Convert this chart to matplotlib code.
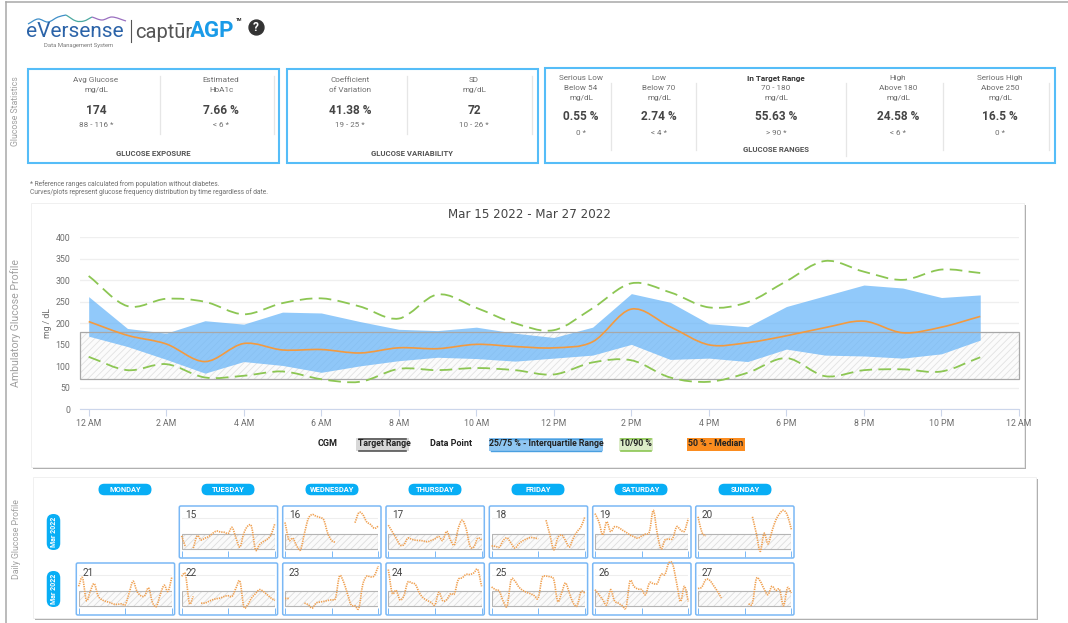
import matplotlib
matplotlib.use("Agg")
import numpy as np
import matplotlib.pyplot as plt
from matplotlib.patches import FancyBboxPatch, Rectangle, PathPatch
from matplotlib.path import Path

plt.rcParams["font.family"] = ["Roboto", "DejaVu Sans"]
plt.rcParams["hatch.linewidth"] = 0.6

W, H = 1068, 623
BLUE = "#55bdf8"
PILL = "#08aef5"
GREEN = "#8cc653"
ORANGE = "#f39a3f"
TXT = "#6e6e6e"
DARK = "#454545"

# ambulatory profile, hourly readings
hours = list(range(24))
p90 = [310, 240, 257, 250, 221, 247, 258, 239, 211, 267, 236, 200,
       184, 235, 293, 272, 237, 249, 298, 345, 320, 301, 325, 317]
p75 = [262, 188, 177, 206, 198, 226, 224, 204, 186, 183, 191, 177,
       167, 191, 269, 249, 199, 192, 239, 264, 289, 282, 260, 266]
p50 = [204, 172, 152, 111, 153, 138, 139, 131, 143, 141, 151, 146,
       143, 157, 233, 192, 150, 155, 171, 190, 205, 178, 191, 216]
p25 = [170, 146, 116, 84, 111, 102, 86, 101, 113, 121, 118, 112,
       119, 126, 151, 116, 119, 111, 140, 126, 124, 119, 129, 161]
p10 = [122, 91, 105, 74, 78, 88, 70, 64, 94, 91, 96, 91,
       81, 109, 114, 74, 64, 85, 119, 77, 91, 93, 88, 121]
y_ticks = [0, 50, 100, 150, 200, 250, 300, 350, 400]
x_ticks = [0, 2, 4, 6, 8, 10, 12, 14, 16, 18, 20, 22, 24]
x_labels = ["12 AM", "2 AM", "4 AM", "6 AM", "8 AM", "10 AM", "12 PM",
            "2 PM", "4 PM", "6 PM", "8 PM", "10 PM", "12 AM"]
target_low, target_high = 70, 180

# daily traces, hourly readings, None = no data
day_15 = [168, 85, None, 77, 168, 138, 151, 163, 187, 204, 197, 195, 187, 231, 151, 85, 187, 241, 236, 65, 102, 126, 143, 175, 261]
day_16 = [268, 138, 151, 94, 65, 187, 297, 327, 314, 305, 285, 187, 134, 119, None, None, None, None, 266, 341, 327, 273, 253, 224, 241]
day_17 = [248, 200, 151, 102, 102, 151, 143, 136, 134, 131, 124, 134, 146, 163, 134, 202, 138, 102, 224, 285, 224, 94, 85, 151, 138]
day_18 = [94, 90, 85, 134, 153, 114, 77, 109, 131, 146, 156, 153, 146, None, 285, 175, 65, 151, 175, 134, 85, 151, 200, 236, 310]
day_19 = [334, 273, 175, 273, 200, 236, 231, 212, 195, 175, 163, 151, 168, 182, 200, 358, 187, 72, 138, 143, 151, 236, 212, 204, 297]
day_20 = [310, 195, 168, None, None, None, None, None, None, None, None, None, None, None, 310, 187, 53, 187, 109, 200, 285, 334, 358, 321, 217]
day_21 = [217, 280, 112, 180, 237, 147, 117, 105, 97, 85, 82, 87, 80, 167, 255, 180, 147, 147, 205, 97, 67, 155, 225, 180, 287]
day_22 = [292, 305, 92, 142, None, 92, 92, 105, 117, 125, 130, 142, 147, 142, 205, 255, 67, 80, 130, 162, 192, 180, 155, 130, 112]
day_23 = [127, 127, None, None, None, 92, 80, 55, 92, 100, 105, 112, 117, 130, 292, 255, 167, 80, 72, 55, 230, 292, 287, 297, 367]
day_24 = [342, 167, 187, 117, 147, 247, 242, 230, 167, 130, 112, 97, 80, 172, 110, 117, 162, 162, 267, 280, 305, 305, 317, 342, 217]
day_25 = [212, 192, 180, 105, 72, 262, 255, 212, 187, 172, 162, 147, 130, 280, 292, 287, 267, 105, 167, 242, 167, 92, 72, 175, 167]
day_26 = [192, 155, 117, 80, 192, 110, 92, 72, 62, 255, 217, 197, 192, 155, 242, 237, 237, 305, 305, 392, 380, 242, 105, 217, 105]
day_27 = [200, 212, 267, 262, 222, 180, 130, None, None, None, None, None, None, 85, 92, 272, 255, 197, 155, 217, 187, 192, 72, 205, 167]

week_days = ["MONDAY", "TUESDAY", "WEDNESDAY", "THURSDAY", "FRIDAY", "SATURDAY", "SUNDAY"]
week_1 = [None, (15, day_15), (16, day_16), (17, day_17), (18, day_18), (19, day_19), (20, day_20)]
week_2 = [(21, day_21), (22, day_22), (23, day_23), (24, day_24), (25, day_25), (26, day_26), (27, day_27)]

fig = plt.figure(figsize=(W / 100, H / 100), dpi=100, facecolor="white")
bg = fig.add_axes([0, 0, 1, 1], zorder=0)
bg.set_xlim(0, W)
bg.set_ylim(H, 0)
bg.axis("off")


def px_axes(x0, y0, x1, y1, zorder=2):
    ax = fig.add_axes([x0 / W, 1 - y1 / H, (x1 - x0) / W, (y1 - y0) / H], zorder=zorder)
    ax.patch.set_alpha(0)
    return ax


def spline_path(xs, ys):
    # catmull-rom through the readings, same look as the original smooth curves
    xs = np.asarray(xs, float)
    ys = np.asarray(ys, float)
    verts = [(xs[0], ys[0])]
    codes = [Path.MOVETO]
    n = len(xs)
    for i in range(n - 1):
        m0 = (ys[i + 1] - ys[max(i - 1, 0)]) / (xs[i + 1] - xs[max(i - 1, 0)])
        m1 = (ys[min(i + 2, n - 1)] - ys[i]) / (xs[min(i + 2, n - 1)] - xs[i])
        d = (xs[i + 1] - xs[i]) / 3
        verts += [(xs[i] + d, ys[i] + m0 * d), (xs[i + 1] - d, ys[i + 1] - m1 * d), (xs[i + 1], ys[i + 1])]
        codes += [Path.CURVE4] * 3
    return Path(verts, codes)


def card(x0, y0, x1, y1):
    bg.add_patch(Rectangle((x0 + 2, y0 + 2), x1 - x0, y1 - y0, fc="#8f8f8f", ec="none", alpha=0.7))
    bg.add_patch(Rectangle((x0, y0), x1 - x0, y1 - y0, fc="white", ec="#eeeeee", lw=0.6))


def stat_box(x0, y0, x1, y1):
    bg.add_patch(Rectangle((x0, y0), x1 - x0, y1 - y0, fc="white", ec=BLUE, lw=1.5))


def stat(cx, lines, y_lines, value, y_val, ref, y_ref, bold_first=False):
    for i, (s, y) in enumerate(zip(lines, y_lines)):
        bg.text(cx, y, s, ha="center", va="center", fontsize=5.9, color="#333333" if (bold_first and i == 0) else TXT,
                fontweight="bold" if (bold_first and i == 0) else "normal")
    bg.text(cx, y_val, value, ha="center", va="center", fontsize=8.6, color=DARK, fontweight="bold")
    bg.text(cx, y_ref, ref, ha="center", va="center", fontsize=5.8, color=TXT)


def divider(x, y0, y1):
    bg.plot([x, x], [y0, y1], color="#e6e6e6", lw=0.9)


def pill(cx, cy, w, h, color=PILL):
    r = min(w, h) / 2
    bg.add_patch(FancyBboxPatch((cx - w / 2 + r, cy - h / 2 + r), w - 2 * r, h - 2 * r,
                                boxstyle=f"round,pad={r}", fc=color, ec="none"))


# page frame
bg.plot([5.5, 5.5], [2, H], color="#a8a8a8", lw=1.1)
bg.plot([5.5, W], [2, 2], color="#a8a8a8", lw=1.1)

# logo
wave_x = [28, 38, 48, 58, 66, 76, 84, 92, 102, 112, 126]
wave_y = [24, 19, 22, 17, 15, 21, 21, 17, 20, 17, 21]
bg.add_patch(PathPatch(spline_path(wave_x[:5], wave_y[:5]), fc="none", ec="#3f8fc9", lw=0.9))
bg.add_patch(PathPatch(spline_path(wave_x[4:8], wave_y[4:8]), fc="none", ec="#4aa8a0", lw=0.9))
bg.add_patch(PathPatch(spline_path(wave_x[7:], wave_y[7:]), fc="none", ec="#9a6fc0", lw=0.9))
bg.text(26, 31.5, "eVersense", fontsize=15, color="#2b63a8", va="center", ha="left")
bg.text(44, 46, "Data Management System", fontsize=4.2, color="#777777", va="center")
bg.plot([131, 131], [20, 42], color="#555555", lw=0.8)
bg.text(135, 33, "captūr", fontsize=14.5, color="#555555", va="center")
bg.text(190, 31, "AGP", fontsize=16, color="#1a9be8", va="center", fontweight="bold")
bg.text(236, 20, "TM", fontsize=3.2, color="#333333", va="center", fontweight="bold")
bg.scatter([256], [27], s=115, color="#333333", zorder=3)
bg.text(256, 27.3, "?", fontsize=8.5, color="white", ha="center", va="center", fontweight="bold", zorder=4)

# side labels
bg.text(16, 111, "Glucose Statistics", rotation=90, ha="center", va="center", fontsize=6.3, color="#a0a0a0")
bg.text(16, 323, "Ambulatory Glucose Profile", rotation=90, ha="center", va="center", fontsize=7.6, color="#a0a0a0")
bg.text(17, 539, "Daily Glucose Profile", rotation=90, ha="center", va="center", fontsize=6.3, color="#a0a0a0")

# statistics
stat_box(28, 69, 279, 163)
stat_box(287, 69, 538, 163)
stat_box(545, 68, 1055, 163)
y2 = [80, 90]
stat(96, ["Avg Glucose", "mg/dL"], y2, "174", 110, "88 - 116 *", 125)
stat(221, ["Estimated", "HbA1c"], y2, "7.66 %", 110, "< 6 *", 125)
stat(350, ["Coefficient", "of Variation"], y2, "41.38 %", 110, "19 - 25 *", 125)
stat(474, ["SD", "mg/dL"], y2, "72", 110, "10 - 26 *", 125)
y3 = [78, 88, 98]
stat(581, ["Serious Low", "Below 54", "mg/dL"], y3, "0.55 %", 117, "0 *", 133)
stat(659, ["Low", "Below 70", "mg/dL"], y3, "2.74 %", 117, "< 4 *", 133)
stat(776, ["In Target Range", "70 - 180", "mg/dL"], y3, "55.63 %", 117, "> 90 *", 133, bold_first=True)
stat(898, ["High", "Above 180", "mg/dL"], y3, "24.58 %", 117, "< 6 *", 133)
stat(1000, ["Serious High", "Above 250", "mg/dL"], y3, "16.5 %", 117, "0 *", 133)
for x in (160, 274):
    divider(x, 76, 134)
for x in (407, 532):
    divider(x, 76, 134)
for x in (611, 696, 943, 1049):
    divider(x, 83, 150)
divider(845.5, 83, 156)
bg.text(153, 153, "GLUCOSE EXPOSURE", ha="center", va="center", fontsize=5.6, color="#555555", fontweight="bold")
bg.text(412, 153, "GLUCOSE VARIABILITY", ha="center", va="center", fontsize=5.6, color="#555555", fontweight="bold")
bg.text(776, 150, "GLUCOSE RANGES", ha="center", va="center", fontsize=5.6, color="#555555", fontweight="bold")
bg.text(30, 184, "* Reference ranges calculated from population without diabetes.", fontsize=4.8, color=TXT, va="center")
bg.text(30, 192, "Curves/plots represent glucose frequency distribution by time regardless of date.", fontsize=4.8, color=TXT, va="center")

# ambulatory chart
card(31, 203, 1024, 467)
bg.text(529, 214, "Mar 15 2022 - Mar 27 2022", ha="center", va="center", fontsize=8.6, color="#444444",
        family=["DejaVu Sans"])
ax = px_axes(80, 237.3, 1019, 409.3)
ax.set_xlim(-0.224, 24)
ax.set_ylim(0, 400)
ax.axhspan(target_low, target_high, fc="#fbfbfb", ec="#e2e2e2", hatch="/////", lw=0, zorder=1)
ax.fill_between(hours, p25, p75, color="#62b2f8", alpha=0.7, lw=0, zorder=2)
ax.add_patch(Rectangle((-0.224, target_low), 24.224, target_high - target_low, fc="none", ec="#a8a8a8", lw=0.9, zorder=3, clip_on=False))
ax.add_patch(PathPatch(spline_path(hours, p90), fc="none", ec=GREEN, lw=1.3, ls=(0, (7, 3.5)), zorder=4))
ax.add_patch(PathPatch(spline_path(hours, p10), fc="none", ec=GREEN, lw=1.3, ls=(0, (7, 3.5)), zorder=4))
ax.add_patch(PathPatch(spline_path(hours, p50), fc="none", ec=ORANGE, lw=1.2, zorder=5))
ax.set_xticks(x_ticks)
ax.set_xticklabels(x_labels)
ax.set_yticks(y_ticks)
ax.tick_params(axis="x", colors="#ccd6eb", labelcolor=TXT, labelsize=6.3, length=5, width=0.8, pad=2)
ax.tick_params(axis="y", length=0, labelcolor=TXT, labelsize=6.3, pad=7)
ax.grid(axis="y", color="#efefef", lw=0.9, zorder=0)
ax.set_axisbelow(True)
for s in ("top", "left", "right"):
    ax.spines[s].set_visible(False)
ax.spines["bottom"].set_color("#ccd6eb")
bg.text(47, 323, "mg / dL", rotation=90, ha="center", va="center", fontsize=6.3, color=TXT)

# legend strip
leg_y = 444
bg.text(328, leg_y, "CGM", ha="center", va="center", fontsize=6.5, color="#222222", fontweight="bold")
bg.add_patch(Rectangle((356, 438), 53, 13, fc="#d8d8d8", ec="none"))
bg.plot([359, 406], [438.5, 438.5], color="#555555", lw=1.2)
bg.plot([359, 406], [450.5, 450.5], color="#555555", lw=1.2)
bg.text(384, leg_y, "Target Range", ha="center", va="center", fontsize=6.3, color="#222222", fontweight="bold")
bg.text(451, leg_y, "Data Point", ha="center", va="center", fontsize=6.5, color="#222222", fontweight="bold")
bg.add_patch(Rectangle((489, 438), 114, 13, fc="#8fc6f2", ec="none"))
bg.plot([491, 601], [438.5, 438.5], color="#4a9fe0", lw=1.0)
bg.plot([491, 601], [450.5, 450.5], color="#4a9fe0", lw=1.0)
bg.text(546, leg_y, "25/75 % - Interquartile Range", ha="center", va="center", fontsize=6.3, color="#222222", fontweight="bold")
bg.add_patch(Rectangle((619, 438), 34, 13, fc="#dcecc8", ec="none"))
bg.plot([621, 651], [438.5, 438.5], color=GREEN, lw=1.2)
bg.plot([621, 651], [450.5, 450.5], color=GREEN, lw=1.2)
bg.text(636, leg_y, "10/90 %", ha="center", va="center", fontsize=6.3, color="#222222", fontweight="bold")
bg.add_patch(Rectangle((687, 438), 58, 13, fc="#fb8c1f", ec="none"))
bg.text(716, leg_y, "50 % - Median", ha="center", va="center", fontsize=6.3, color="#222222", fontweight="bold")

# daily profiles
card(33, 477, 1036, 618)
col_x = [76.3, 179.3, 282.7, 386, 489.3, 592.7, 695.7]
pill_x = [125, 228, 332, 435, 538, 641, 745]
for cx, name in zip(pill_x, week_days):
    pill(cx, 489.5, 53, 11.5)
    bg.text(cx, 489.6, name, ha="center", va="center", fontsize=5.4, color="white", fontweight="bold")
for cy in (532, 589):
    pill(53.5, cy, 13.5, 36)
    bg.text(53.5, cy, "Mar 2022", rotation=90, ha="center", va="center", fontsize=5, color="white", fontweight="bold")


def day_panel(x0, y0, num, vals):
    x1, y1 = x0 + 98.3, y0 + 52
    bg.add_patch(FancyBboxPatch((x0 + 1.5, y0 + 1.5), 95.3, 49, boxstyle="round,pad=1.5", fc="white", ec="#7ab8f5", lw=1.1))
    a = px_axes(x0 + 2.3, y0 + 1, x1 - 2.7, y1 - 1, zorder=3)
    a.set_xlim(0, 24)
    a.set_ylim(11, 383)
    a.axhline(300, color="#eeeeee", lw=0.8, zorder=0)
    a.axhspan(target_low, target_high, fc="#fafafa", ec="#dedede", hatch="/////", lw=0, zorder=1)
    a.add_patch(Rectangle((0, target_low), 24, target_high - target_low, fc="none", ec="#b5b5b5", lw=0.8, zorder=2))
    # one dotted run per stretch of readings, gaps stay empty
    run_x, run_y = [], []
    for h, v in list(enumerate(vals)) + [(25, None)]:
        if v is not None:
            run_x.append(h)
            run_y.append(v)
        else:
            if len(run_x) > 1:
                a.add_patch(PathPatch(spline_path(run_x, run_y), fc="none", ec="#f0a050", lw=1.2,
                                      ls=(0, (0.8, 0.6)), clip_on=False, zorder=4))
            run_x, run_y = [], []
    a.set_xticks([0, 12, 24])
    a.set_xticklabels([])
    a.set_yticks([])
    a.tick_params(axis="x", colors="#7ab8f5", length=4, width=0.7, direction="in", pad=0)
    for s in a.spines.values():
        s.set_visible(False)
    a.text(0.04, 0.83, str(num), transform=a.transAxes, fontsize=7.2, color=DARK, va="center", zorder=5)


for row_y, week in ((506, week_1), (563, week_2)):
    for x0, item in zip(col_x, week):
        if item is not None:
            day_panel(x0, row_y, item[0], item[1])

fig.savefig("out.png", dpi=100)
